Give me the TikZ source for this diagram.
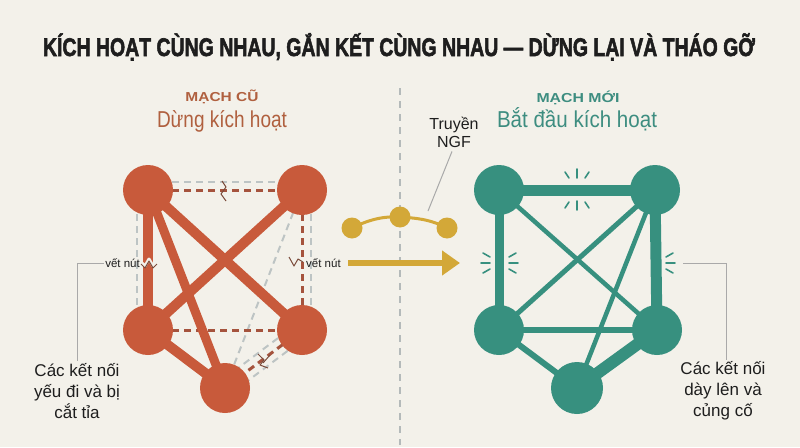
\documentclass[tikz,border=0pt]{standalone}
\usepackage{graphicx}
\usepackage{fontspec}
\setmainfont{Liberation Sans}
\newfontfamily\titlefont[BoldFeatures={FakeBold=2.5}]{Liberation Sans}
\usetikzlibrary{arrows.meta,calc}
\definecolor{bgc}{HTML}{F3F1EA}
\definecolor{oran}{HTML}{C85A3B}
\definecolor{orandash}{HTML}{A5533D}
\definecolor{gdash}{HTML}{BDC4C4}
\definecolor{teal2}{HTML}{37907F}
\definecolor{mustard}{HTML}{D3A838}
\definecolor{otext}{HTML}{B0603F}
\definecolor{ttext}{HTML}{3D8D80}
\definecolor{lead}{HTML}{A9A9A9}
\definecolor{ink}{HTML}{1E1E1E}
\definecolor{crackc}{HTML}{7A4A3A}
\pgfdeclarelayer{bg}\pgfdeclarelayer{edges}\pgfsetlayers{bg,edges,main}
\begin{document}
\begin{tikzpicture}[x=1pt,y=-1pt,
 onode/.style={circle,fill=oran,minimum size=50pt,inner sep=0pt},
 tnode/.style={circle,fill=teal2,minimum size=50pt,inner sep=0pt},
 mol/.style={circle,fill=mustard,minimum size=21pt,inner sep=0pt},
 oedge/.style={draw=oran,line width=#1},
 tedge/.style={draw=teal2,line width=#1},
 odash/.style={draw=orandash,line width=3pt,dash pattern=on 7pt off 5pt},
 gdashed/.style={draw=gdash,line width=2pt,dash pattern=on 7pt off 5pt},
 leader/.style={draw=lead,line width=1pt},
 spark/.style={draw=teal2,line width=1.6pt,line cap=round},
 crackline/.style={draw=crackc,line width=1pt,line join=round},
 crackgap/.style={draw=bgc,line width=3pt,line join=round},
 small/.style={font=\fontsize{11.5}{14}\selectfont,text=ink,inner sep=1pt},
 callout/.style={align=center,font=\fontsize{17}{21}\selectfont,text=ink,inner sep=2pt}]
\useasboundingbox (0,0) rectangle (800,447);
\begin{pgfonlayer}{bg}
\fill[bgc] (0,0) rectangle (800,447);
\end{pgfonlayer}

% title
\node[anchor=base,text=ink,inner sep=0pt] (title) at (399,56)
 {\resizebox{712pt}{\height}{\fontsize{25.5}{30}\titlefont\bfseries KÍCH HOẠT CÙNG NHAU, GẮN KẾT CÙNG NHAU — DỪNG LẠI VÀ THÁO GỠ}};

% headings
\node[anchor=base,text=otext,inner sep=0pt] (hL) at (222,101)
 {\resizebox{73pt}{\height}{\fontsize{13}{15}\selectfont\bfseries MẠCH CŨ}};
\node[anchor=base,text=otext,inner sep=0pt] (sL) at (222,127)
 {\resizebox{130pt}{\height}{\fontsize{23}{26}\selectfont Dừng kích hoạt}};
\node[anchor=base,text=ttext,inner sep=0pt] (hR) at (578,102)
 {\resizebox{83pt}{\height}{\fontsize{13}{15}\selectfont\bfseries MẠCH MỚI}};
\node[anchor=base,text=ttext,inner sep=0pt] (sR) at (577,127)
 {\resizebox{160pt}{\height}{\fontsize{23}{26}\selectfont Bắt đầu kích hoạt}};

% divider
\coordinate (dtop) at (400,88);
\coordinate (dbot) at (400,445);
\begin{pgfonlayer}{edges}
\draw[draw=gdash!85!gray,line width=1.3pt,dash pattern=on 7pt off 6pt] (dtop) -- (dbot);
\end{pgfonlayer}

% ---------- old circuit ----------
\node[onode] (oTL) at (148,190) {};
\node[onode] (oTR) at (302,190) {};
\node[onode] (oML) at (148,330) {};
\node[onode] (oMR) at (302,330) {};
\node[onode] (oBo) at (225,388) {};
\begin{pgfonlayer}{edges}
\draw[gdashed] ([xshift=-11pt]oTL.center) -- ([xshift=-11pt]oML.center);
\draw[gdashed] ([yshift=8pt]oTL.center) -- ([yshift=8pt]oTR.center);
\draw[gdashed] ([xshift=9pt]oTR.center) -- ([xshift=9pt]oMR.center);
\draw[gdashed] (oTR.center) -- (oBo.center);
\draw[gdashed] ($(oMR)!8pt!90:(oBo)$) -- ($(oBo)!8pt!-90:(oMR)$);
\draw[gdashed] ($(oMR)!8pt!-90:(oBo)$) -- ($(oBo)!8pt!90:(oMR)$);
\draw[odash] (oTL.center) -- (oTR.center);
\draw[odash] (oTR.center) -- (oMR.center);
\draw[odash] (oML.center) -- (oMR.center);
\draw[odash] (oMR.center) -- (oBo.center);
\draw[oedge=10pt] (oTL.center) -- (oML.center);
\draw[oedge=10pt] (oTL.center) -- (oMR.center);
\draw[oedge=9pt] (oTL.center) -- (oBo.center);
\draw[oedge=10pt] (oTR.center) -- (oML.center);
\draw[oedge=10pt] (oML.center) -- (oBo.center);
\end{pgfonlayer}
% cracks
\draw[crackgap] (141,262) -- (145,266) -- (149,259) -- (153,266) -- (157,262);
\draw[crackline] (141,264) -- (145,268) -- (149,261) -- (153,268) -- (157,264);
\draw[crackline] (222,181) -- (226,187) -- (221,194) -- (226,201);
\draw[crackline] (289,257) -- (294,266) -- (298,259) -- (303,262);
\draw[crackline] (258,354) -- (264,360) -- (260,365) -- (268,368);
\draw[crackline] (270,355) -- (263,363);
% labels
\node[small,anchor=east] (vnL) at (141,263) {vết nút};
\node[small,anchor=west] (vnR) at (305,263) {vết nút};
\node[callout] (callL) at (77,391) {Các kết nối\\yếu đi và bị\\cắt tỉa};
\draw[leader] (vnL.west) -| (callL.north);

% ---------- transfer ----------
\node[mol] (m1) at (352,228) {};
\node[mol] (m2) at (400,217) {};
\node[mol] (m3) at (447,228) {};
\begin{pgfonlayer}{edges}
\draw[draw=mustard,line width=3pt] (m1.center) .. controls (370,219) and (385,216) .. (m2.center)
  .. controls (415,218) and (430,219) .. (m3.center);
\end{pgfonlayer}
\node[align=center,font=\fontsize{16}{18}\selectfont,text=ink,inner sep=1pt] (ngf) at (454,132) {Truyền\\NGF};
\coordinate (ngfend) at (428,211);
\draw[leader] ([xshift=-2pt,yshift=-3pt]ngf.south) -- (ngfend);
\coordinate (a1) at (348,263);
\coordinate (a2) at (460,263);
\draw[draw=mustard,line width=6pt,-{Triangle[length=18pt,width=24pt]}] (a1) -- (a2);

% ---------- new circuit ----------
\node[tnode] (tTL) at (499,190) {};
\node[tnode] (tTR) at (655,190) {};
\node[tnode] (tML) at (499,330) {};
\node[tnode] (tMR) at (657,330) {};
\node[tnode,minimum size=52pt] (tBo) at (577,388) {};
\begin{pgfonlayer}{edges}
\draw[tedge=11pt] (tTL.center) -- (tTR.center);
\draw[tedge=9pt] (tTL.center) -- (tML.center);
\draw[tedge=11pt] (tTR.center) -- (tMR.center);
\draw[tedge=4.5pt] (tTL.center) -- (tMR.center);
\draw[tedge=5pt] (tTR.center) -- (tML.center);
\draw[tedge=4.5pt] (tTR.center) -- (tBo.center);
\draw[tedge=6.5pt] (tML.center) -- (tMR.center);
\draw[tedge=6pt] (tML.center) -- (tBo.center);
\draw[tedge=12pt] (tMR.center) -- (tBo.center);
\end{pgfonlayer}
% sparks
\draw[spark] (565,172) -- (569,178);
\draw[spark] (577,169) -- (577,178);
\draw[spark] (589,172) -- (585,178);
\draw[spark] (569,202) -- (565,208);
\draw[spark] (577,201) -- (577,210);
\draw[spark] (585,202) -- (589,208);
\draw[spark] (490,257) -- (483,253);
\draw[spark] (490,263) -- (481,263);
\draw[spark] (490,269) -- (483,273);
\draw[spark] (509,257) -- (516,253);
\draw[spark] (509,263) -- (518,263);
\draw[spark] (509,269) -- (516,273);
\draw[spark] (666,257) -- (673,253);
\draw[spark] (666,263) -- (675,263);
\draw[spark] (666,269) -- (673,273);
\coordinate (rs) at (683,263);
\node[callout] (callR) at (723,391) {Các kết nối\\dày lên và\\củng cố};
\draw[leader] (rs) -| ([xshift=3pt]callR.north);
\end{tikzpicture}
\end{document}
